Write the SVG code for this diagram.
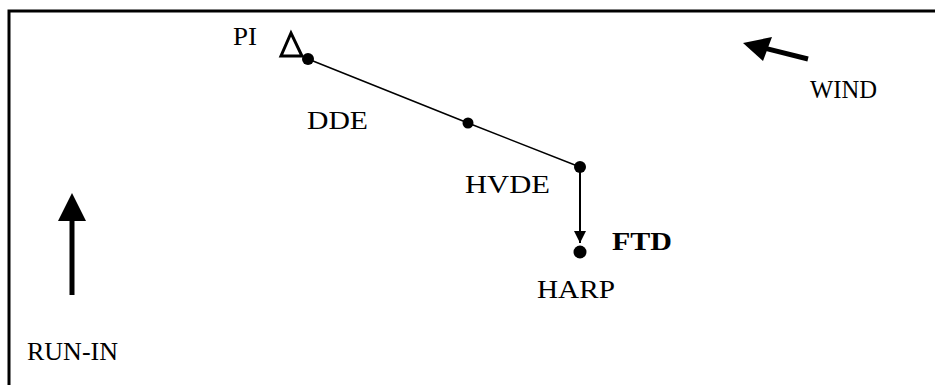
<svg xmlns="http://www.w3.org/2000/svg" width="935" height="385" viewBox="0 0 935 385">
<defs>
<style>
.t{font-family:"Liberation Serif","Times New Roman",serif;font-size:26px;fill:#000}
.b{font-weight:bold}
.dot{fill:#000}
.ln{stroke:#000;fill:none}
</style>
<marker id="ah" markerUnits="userSpaceOnUse" markerWidth="12" markerHeight="14" viewBox="0 0 12 14" refX="12" refY="7" orient="auto">
<path d="M0,1 L12,7 L0,13 Z" fill="#000"/>
</marker>
</defs>
<rect x="0" y="0" width="935" height="385" fill="#fff"/>
<rect x="9" y="11" width="940" height="390" fill="none" stroke="#000" stroke-width="3"/>
<g id="connectors">
<polyline class="ln" stroke-width="1.5" points="308,59 468,123 580,167"/>
<line class="ln" stroke-width="2" x1="580" y1="167" x2="580" y2="243" marker-end="url(#ah)"/>
</g>
<g id="PI">
<polygon points="291,33 281,56 302,56" fill="none" stroke="#000" stroke-width="3" stroke-linejoin="miter"/>
<circle class="dot" cx="308" cy="59" r="6"/>
<text class="t" x="233" y="45" font-size="22" textLength="24" lengthAdjust="spacingAndGlyphs">PI</text>
</g>
<g id="DDE">
<circle class="dot" cx="468" cy="123" r="5.5"/>
<text class="t" x="307" y="129" textLength="61" lengthAdjust="spacingAndGlyphs">DDE</text>
</g>
<g id="HVDE">
<circle class="dot" cx="580" cy="167" r="6"/>
<text class="t" x="465" y="193" textLength="85" lengthAdjust="spacingAndGlyphs">HVDE</text>
</g>
<g id="HARP">
<circle class="dot" cx="580" cy="252" r="6.5"/>
<text class="t b" x="612" y="250" textLength="60" lengthAdjust="spacingAndGlyphs">FTD</text>
<text class="t" x="537" y="298" textLength="78" lengthAdjust="spacingAndGlyphs">HARP</text>
</g>
<g id="WIND">
<line class="ln" stroke-width="5" x1="808" y1="59" x2="760" y2="47"/>
<polygon points="743,43 772,37 763,61" fill="#000"/>
<text class="t" x="810" y="98" font-size="24" textLength="67" lengthAdjust="spacingAndGlyphs">WIND</text>
</g>
<g id="RUN-IN">
<line class="ln" stroke-width="5" x1="72" y1="295" x2="72" y2="218"/>
<polygon points="72,193 58,221 86,221" fill="#000"/>
<text class="t" x="27" y="360" font-size="24" textLength="91" lengthAdjust="spacingAndGlyphs">RUN-IN</text>
</g>
</svg>
